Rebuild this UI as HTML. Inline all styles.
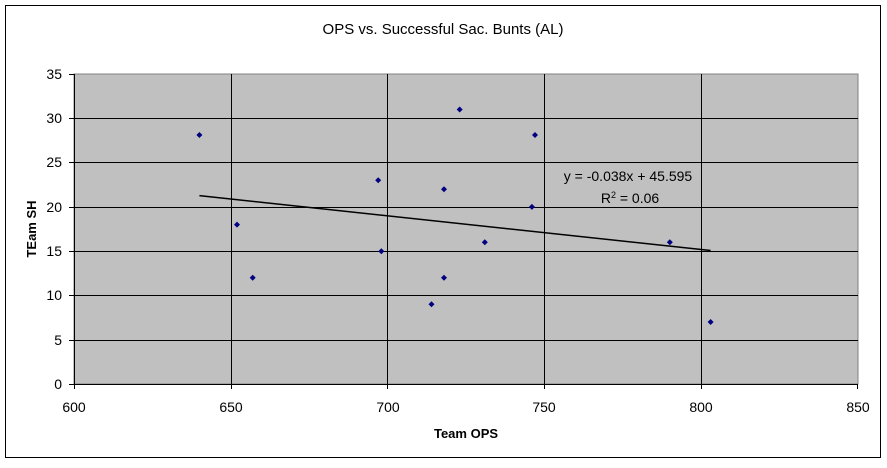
<!DOCTYPE html>
<html><head><style>body{margin:0;background:#fff}</style></head><body>
<svg width="887" height="463" xmlns="http://www.w3.org/2000/svg" font-family="Liberation Sans, Arial, sans-serif">
<rect x="0" y="0" width="887" height="463" fill="#fff"/>
<rect x="5.5" y="5.5" width="875" height="452" fill="#fff" stroke="#000" stroke-width="1"/>
<text x="443" y="34" font-size="15" text-anchor="middle">OPS vs. Successful Sac. Bunts (AL)</text>
<rect x="74" y="74" width="784" height="310" fill="#c0c0c0" stroke="#808080"/>
<g stroke="#000" stroke-width="1">
<line x1="74" y1="118.5" x2="858" y2="118.5"/><line x1="74" y1="162.5" x2="858" y2="162.5"/>
<line x1="74" y1="207.5" x2="858" y2="207.5"/><line x1="74" y1="251.5" x2="858" y2="251.5"/>
<line x1="74" y1="295.5" x2="858" y2="295.5"/><line x1="74" y1="340.5" x2="858" y2="340.5"/>
<line x1="231.5" y1="74" x2="231.5" y2="384"/><line x1="387.5" y1="74" x2="387.5" y2="384"/>
<line x1="544.5" y1="74" x2="544.5" y2="384"/><line x1="701.5" y1="74" x2="701.5" y2="384"/>
<line x1="74.5" y1="74" x2="74.5" y2="389"/><line x1="69" y1="384.5" x2="858" y2="384.5"/>
<line x1="69" y1="74.5" x2="74" y2="74.5"/><line x1="69" y1="118.5" x2="74" y2="118.5"/><line x1="69" y1="162.5" x2="74" y2="162.5"/><line x1="69" y1="207.5" x2="74" y2="207.5"/><line x1="69" y1="251.5" x2="74" y2="251.5"/><line x1="69" y1="295.5" x2="74" y2="295.5"/><line x1="69" y1="340.5" x2="74" y2="340.5"/>
<line x1="231.5" y1="384" x2="231.5" y2="389"/><line x1="387.5" y1="384" x2="387.5" y2="389"/><line x1="544.5" y1="384" x2="544.5" y2="389"/><line x1="701.5" y1="384" x2="701.5" y2="389"/><line x1="857.5" y1="384" x2="857.5" y2="389"/>
</g>
<g font-size="14" text-anchor="end">
<text x="62" y="79">35</text><text x="62" y="123">30</text><text x="62" y="167">25</text><text x="62" y="212">20</text><text x="62" y="256">15</text><text x="62" y="300">10</text><text x="62" y="345">5</text><text x="62" y="389">0</text>
</g>
<g font-size="14" text-anchor="middle">
<text x="74" y="412">600</text><text x="231" y="412">650</text><text x="388" y="412">700</text><text x="544" y="412">750</text><text x="701" y="412">800</text><text x="858" y="412">850</text>
</g>
<text x="466" y="438" font-size="13" font-weight="bold" text-anchor="middle">Team OPS</text>
<text transform="translate(36,229) rotate(-90)" font-size="13" font-weight="bold" text-anchor="middle">TEam SH</text>
<line x1="199.4" y1="195.6" x2="710.6" y2="250.5" stroke="#000" stroke-width="1.5"/>
<g fill="#000080">
<path d="M199.4 132 l3 3 -3 3 -3 -3z"/>
<path d="M237 221.6 l3 3 -3 3 -3 -3z"/>
<path d="M252.7 274.7 l3 3 -3 3 -3 -3z"/>
<path d="M378.2 177.3 l3 3 -3 3 -3 -3z"/>
<path d="M381.3 248.2 l3 3 -3 3 -3 -3z"/>
<path d="M431.5 301.3 l3 3 -3 3 -3 -3z"/>
<path d="M444 186.2 l3 3 -3 3 -3 -3z"/>
<path d="M444 274.7 l3 3 -3 3 -3 -3z"/>
<path d="M459.7 106.5 l3 3 -3 3 -3 -3z"/>
<path d="M484.8 239.3 l3 3 -3 3 -3 -3z"/>
<path d="M531.9 203.9 l3 3 -3 3 -3 -3z"/>
<path d="M535 132 l3 3 -3 3 -3 -3z"/>
<path d="M669.8 239.3 l3 3 -3 3 -3 -3z"/>
<path d="M710.6 319 l3 3 -3 3 -3 -3z"/>
</g>
<text x="628" y="181" font-size="14" text-anchor="middle">y = -0.038x + 45.595</text>
<text x="630" y="203" font-size="14" text-anchor="middle">R<tspan font-size="9" dy="-5">2</tspan><tspan dy="5"> = 0.06</tspan></text>
</svg>
</body></html>
